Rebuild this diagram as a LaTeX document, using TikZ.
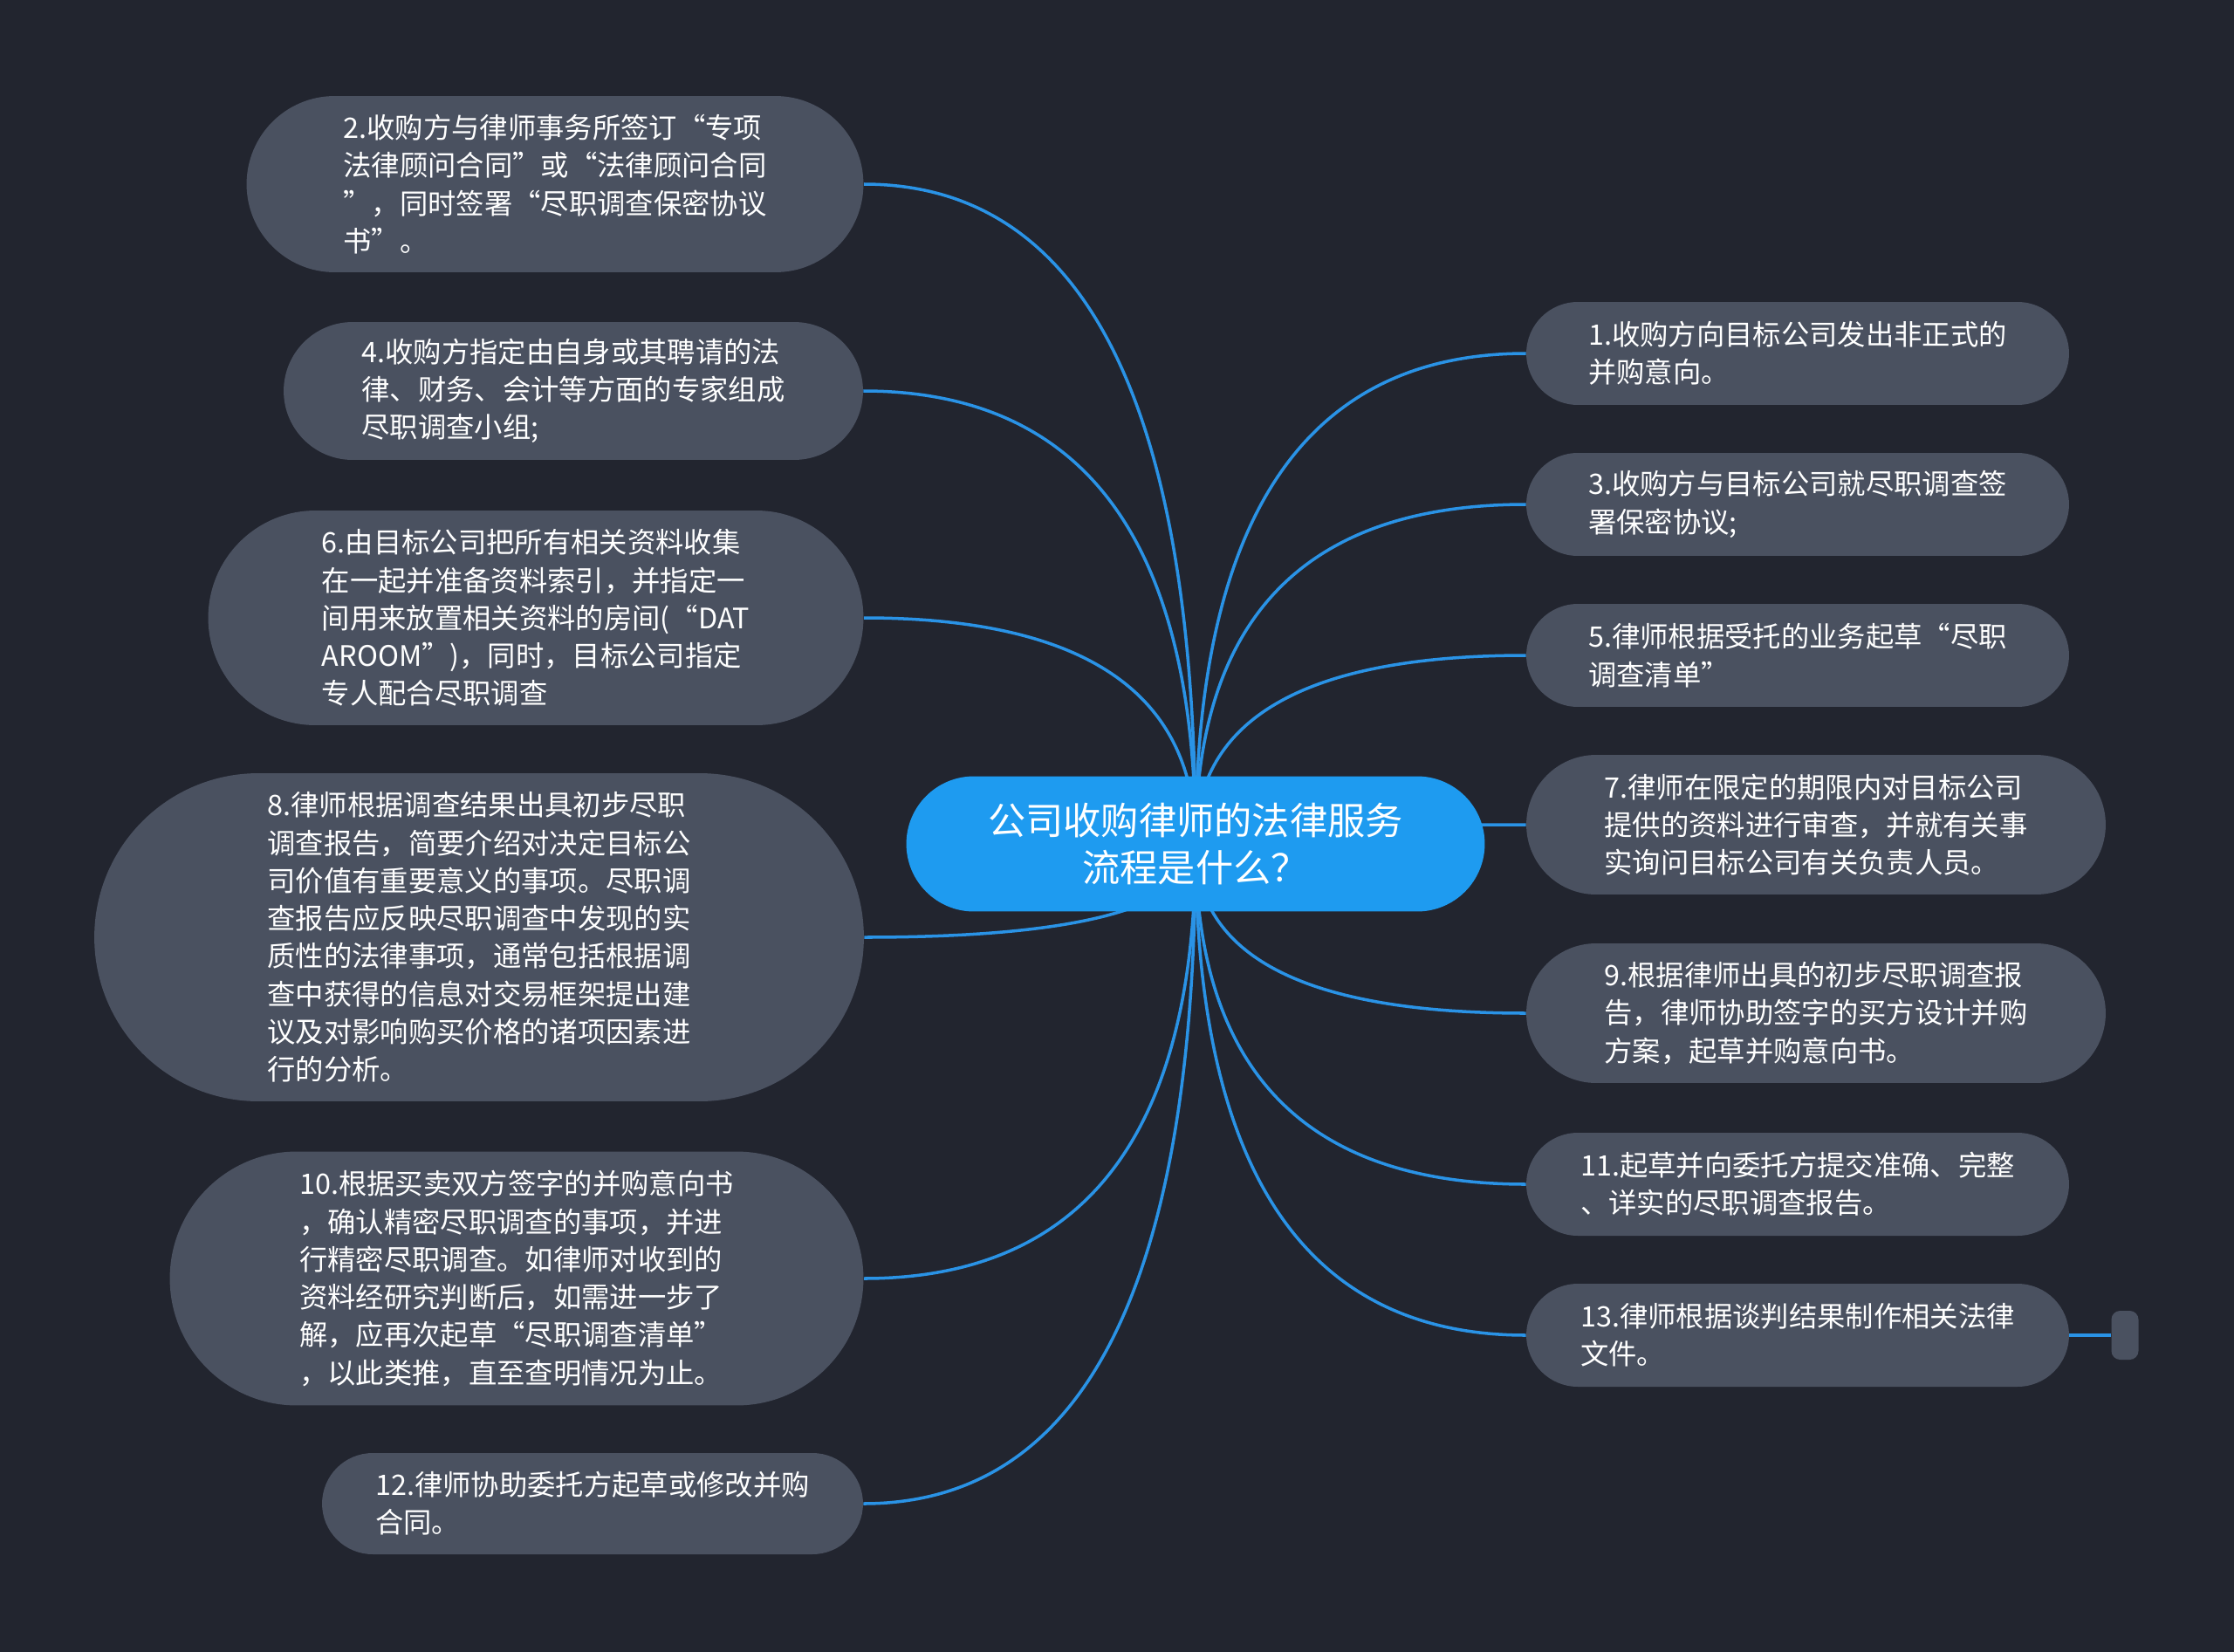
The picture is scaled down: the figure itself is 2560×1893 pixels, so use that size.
\documentclass[tikz,border=0pt]{standalone}
\usepackage{fontspec}
\newfontfamily\cjk{Noto Sans CJK SC}
\usetikzlibrary{calc}
\definecolor{bgc}{HTML}{22252F}
\definecolor{nodec}{HTML}{4A5160}
\definecolor{mainc}{HTML}{1E9BF0}
\definecolor{linkc}{HTML}{2A93E6}
\pgfdeclarelayer{bglayer}
\pgfdeclarelayer{linklayer}
\pgfsetlayers{bglayer,linklayer,main}
\begin{document}
\begin{tikzpicture}[x=0.02cm,y=-0.02cm,
  topic/.style={rectangle, fill=nodec, text=white, align=left, inner sep=0pt,
    font=\cjk\fontsize{18.4}{24.6}\selectfont},
  root/.style={rectangle, fill=mainc, text=white, align=center, inner sep=0pt,
    font=\cjk\fontsize{24.6}{30.7}\selectfont},
  link/.style={draw=linkc, line width=2pt}]
\useasboundingbox (0,0) rectangle (2560,1893);
\begin{pgfonlayer}{bglayer}
  \fill[bgc] (0,0) rectangle (2560,1893);
\end{pgfonlayer}

\node[root, minimum width=13.26cm, minimum height=3.1cm, rounded corners=1.55cm] (c) at (1370,967)
  {公司收购律师的法律服务\\流程是什么？};

% left side
\node[topic, minimum width=14.14cm, minimum height=4.04cm, rounded corners=2.02cm] (n2) at (636,211)
  {2.收购方与律师事务所签订“专项\\法律顾问合同”或“法律顾问合同\\”，同时签署“尽职调查保密协议\\书”。};
\node[topic, minimum width=13.28cm, minimum height=3.16cm, rounded corners=1.58cm] (n4) at (657,448)
  {4.收购方指定由自身或其聘请的法\\律、财务、会计等方面的专家组成\\尽职调查小组;};
\node[topic, minimum width=15.02cm, minimum height=4.92cm, rounded corners=2.46cm] (n6) at (614,708)
  {6.由目标公司把所有相关资料收集\\在一起并准备资料索引，并指定一\\间用来放置相关资料的房间(“DAT\\AROOM”)，同时，目标公司指定\\专人配合尽职调查};
\node[topic, minimum width=17.64cm, minimum height=7.52cm, rounded corners=3.76cm] (n8) at (549,1074)
  {8.律师根据调查结果出具初步尽职\\调查报告，简要介绍对决定目标公\\司价值有重要意义的事项。尽职调\\查报告应反映尽职调查中发现的实\\质性的法律事项，通常包括根据调\\查中获得的信息对交易框架提出建\\议及对影响购买价格的诸项因素进\\行的分析。};
\node[topic, minimum width=15.9cm, minimum height=5.82cm, rounded corners=2.91cm] (n10) at (592,1465)
  {10.根据买卖双方签字的并购意向书\\，确认精密尽职调查的事项，并进\\行精密尽职调查。如律师对收到的\\资料经研究判断后，如需进一步了\\解，应再次起草“尽职调查清单”\\，以此类推，直至查明情况为止。};
\node[topic, minimum width=12.4cm, minimum height=2.32cm, rounded corners=1.16cm] (n12) at (679,1723)
  {12.律师协助委托方起草或修改并购\\合同。};

% right side
\node[topic, minimum width=12.44cm, minimum height=2.36cm, rounded corners=1.18cm] (n1) at (2060,405)
  {1.收购方向目标公司发出非正式的\\并购意向。};
\node[topic, minimum width=12.44cm, minimum height=2.36cm, rounded corners=1.18cm] (n3) at (2060,578)
  {3.收购方与目标公司就尽职调查签\\署保密协议;};
\node[topic, minimum width=12.44cm, minimum height=2.36cm, rounded corners=1.18cm] (n5) at (2060,751)
  {5.律师根据受托的业务起草“尽职\\调查清单”};
\node[topic, minimum width=13.28cm, minimum height=3.2cm, rounded corners=1.6cm] (n7) at (2081,945)
  {7.律师在限定的期限内对目标公司\\提供的资料进行审查，并就有关事\\实询问目标公司有关负责人员。};
\node[topic, minimum width=13.28cm, minimum height=3.2cm, rounded corners=1.6cm] (n9) at (2081,1161)
  {9.根据律师出具的初步尽职调查报\\告，律师协助签字的买方设计并购\\方案，起草并购意向书。};
\node[topic, minimum width=12.44cm, minimum height=2.36cm, rounded corners=1.18cm] (n11) at (2060,1357)
  {11.起草并向委托方提交准确、完整\\、详实的尽职调查报告。};
\node[topic, minimum width=12.44cm, minimum height=2.36cm, rounded corners=1.18cm] (n13) at (2060,1530)
  {13.律师根据谈判结果制作相关法律\\文件。};
\node[topic, minimum width=0.62cm, minimum height=1.12cm, rounded corners=0.2cm] (s13) at (2435,1530) {};

\begin{pgfonlayer}{linklayer}
  \foreach \n in {n2,n4,n6,n8,n10,n12} {
    \coordinate (k-\n) at (c.center |- \n.east);
    \draw[link] (c.center) .. controls ($(c.center)!0.6667!(k-\n)$) and ($(\n.east)!0.6667!(k-\n)$) .. (\n.east);
  }
  \foreach \n in {n1,n3,n5,n7,n9,n11,n13} {
    \coordinate (k-\n) at (c.center |- \n.west);
    \draw[link] (c.center) .. controls ($(c.center)!0.6667!(k-\n)$) and ($(\n.west)!0.6667!(k-\n)$) .. (\n.west);
  }
  \draw[link] (n13.east) -- (s13.west);
\end{pgfonlayer}
\end{tikzpicture}
\end{document}
